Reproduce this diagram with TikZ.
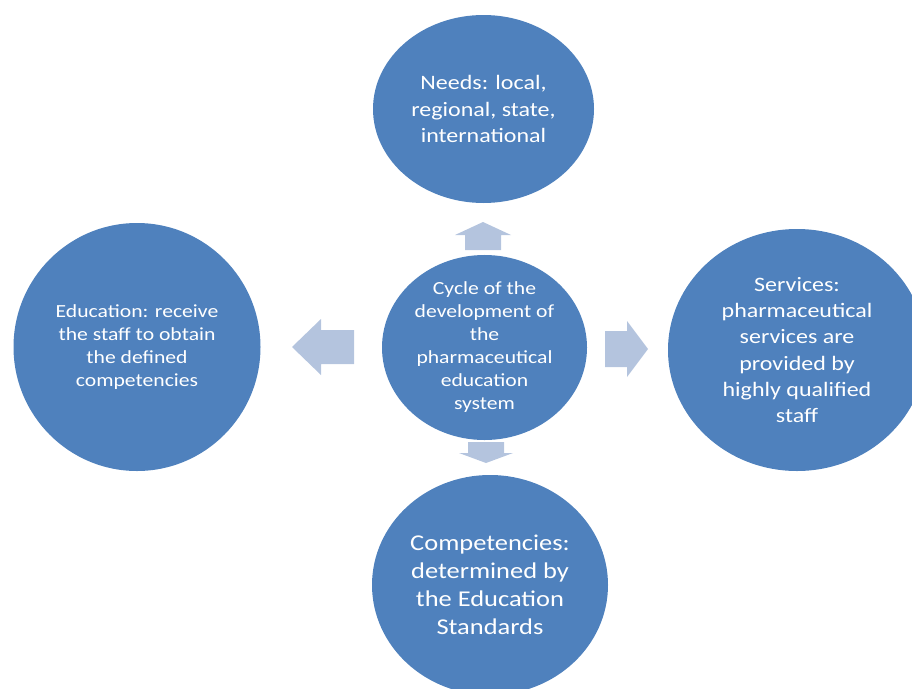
\documentclass[tikz,border=0pt]{standalone}
\usepackage{fontspec}
\setmainfont[FakeStretch=1.17]{Carlito}
\usetikzlibrary{shapes.geometric}
\definecolor{circblue}{RGB}{79,129,189}
\definecolor{arrowblue}{RGB}{180,196,222}

\begin{document}
\begin{tikzpicture}[
      x=1pt, y=-1pt,
      bubble/.style={ellipse, fill=circblue, text=white, inner sep=0pt, align=center},
      smalltext/.style={font=\fontsize{18.5}{23}\selectfont},
      midtext/.style={font=\fontsize{20.5}{26.3}\selectfont},
      blockarrow/.style={fill=arrowblue}
    ]
    \useasboundingbox (0,0) rectangle (912,688);
    \clip (0,0) rectangle (912,688);
    % centre
    \node[bubble, smalltext, minimum width=205pt, minimum height=169pt] (cycle) at (484.5,347.5)
      {Cycle of the\\development of\\the\\pharmaceutical\\education\\system};
    % four outer bubbles
    \node[bubble, midtext, minimum width=221pt, minimum height=188pt] (needs) at (483.5,109)
      {Needs: local,\\regional, state,\\international};
    \node[bubble, smalltext, minimum width=247pt, minimum height=248pt] (education) at (137,347)
      {Education: receive\\the staff to obtain\\the defined\\competencies};
    \node[bubble, midtext, minimum width=258pt, minimum height=242pt] (services) at (797,350)
      {Services:\\pharmaceutical\\services are\\provided by\\highly qualified\\staff};
    \node[bubble, minimum width=236pt, minimum height=220pt, font=\fontsize{22.6}{28}\selectfont] (competencies) at (490,585)
      {Competencies:\\determined by\\the Education\\Standards};
    % block arrows
    \fill[blockarrow] (465,250) -- (465,235) -- (455,235) -- (483,222) -- (511,235) -- (501,235) -- (501,250) -- cycle;
    \fill[blockarrow] (354,330) -- (321,330) -- (321,319) -- (292,347) -- (321,375) -- (321,364) -- (354,364) -- cycle;
    \fill[blockarrow] (605,331) -- (627,331) -- (627,321) -- (648,349) -- (627,377) -- (627,367) -- (605,367) -- cycle;
    \fill[blockarrow] (468,442) -- (504,442) -- (504,453) -- (513,453) -- (486,463) -- (459,453) -- (468,453) -- cycle;
\end{tikzpicture}
\end{document}
